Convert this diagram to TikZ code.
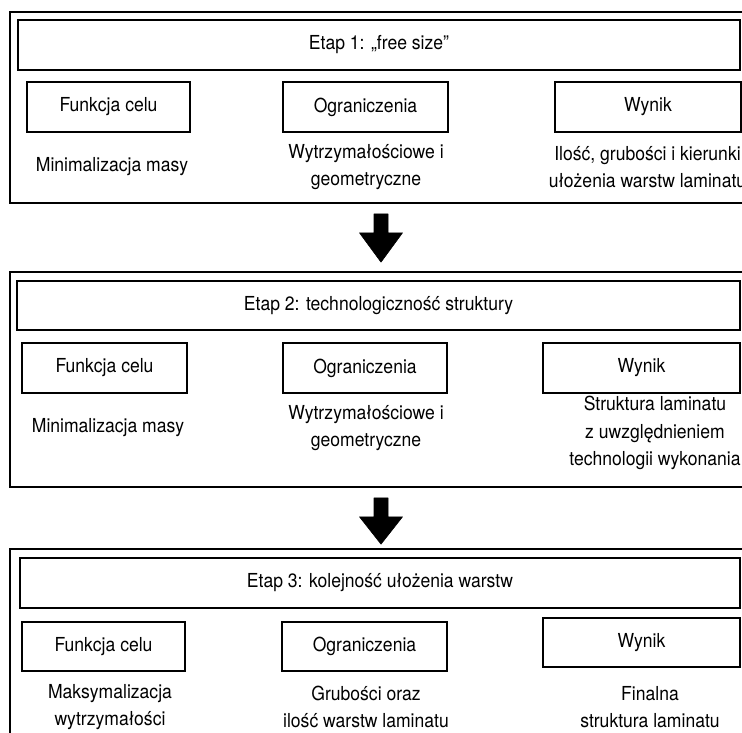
\documentclass[tikz,border=0pt]{standalone}
\usepackage{fontspec}
\setmainfont{TeX Gyre Heros}[FakeStretch=0.91]
\usetikzlibrary{calc}
\begin{document}
\begin{tikzpicture}[x=1pt,y=-1pt,
  box/.style={draw=black,line width=1.7pt,rectangle,inner sep=0pt,anchor=center},
  outerbox/.style={box},
  titlebox/.style={box,font=\fontsize{19.3}{27}\selectfont},
  subbox/.style={box,font=\fontsize{19.3}{27}\selectfont,minimum height=50pt},
  desc/.style={inner sep=0pt,align=center,font=\fontsize{19.3}{27.5}\selectfont},
  bigarrow/.style={fill=black,draw=black,line width=0.6pt,line join=round}]
\clip (0,0) rectangle (742,733);
\fill[white] (0,0) rectangle (742,733);
% ---------- Stage 1 ----------
\node[outerbox,minimum width=750pt,minimum height=191pt] (s1) at (385,107.5) {};
\node[titlebox,minimum width=722pt,minimum height=50pt] (t1) at (379,45) {Etap 1: „free size”};
\node[subbox,minimum width=163pt] (f1) at (108.5,107) {Funkcja celu};
\node[subbox,minimum width=165pt] (o1) at (365.5,107) {Ograniczenia};
\node[subbox,minimum width=186pt] (w1) at (648,107) {Wynik};
\node[desc] (df1) at (112,167) {Minimalizacja masy};
\node[desc] (do1) at (366,167) {Wytrzymałościowe i\\geometryczne};
\node[desc] (dw1) at (647.5,167) {Ilość, grubości i kierunki\\ułożenia warstw laminatu};
% ---------- Stage 2 ----------
\node[outerbox,minimum width=750pt,minimum height=215pt] (s2) at (385,379.5) {};
\node[titlebox,minimum width=723pt,minimum height=49pt] (t2) at (378.5,305.5) {Etap 2: technologiczność struktury};
\node[subbox,minimum width=165pt] (f2) at (104.5,368) {Funkcja celu};
\node[subbox,minimum width=164pt] (o2) at (365,368) {Ograniczenia};
\node[subbox,minimum width=197pt] (w2) at (641.5,368) {Wynik};
\node[desc] (df2) at (108,428) {Minimalizacja masy};
\node[desc] (do2) at (366,428) {Wytrzymałościowe i\\geometryczne};
\node[desc] (dw2) at (655,433) {Struktura laminatu\\z uwzględnieniem\\technologii wykonania};
% ---------- Stage 3 ----------
\node[outerbox,minimum width=750pt,minimum height=211pt] (s3) at (385,654.5) {};
\node[titlebox,minimum width=720pt,minimum height=50pt] (t3) at (380,583) {Etap 3: kolejność ułożenia warstw};
\node[subbox,minimum width=163pt,minimum height=49pt] (f3) at (103.5,646.5) {Funkcja celu};
\node[subbox,minimum width=165pt,minimum height=49pt] (o3) at (364.5,646.5) {Ograniczenia};
\node[subbox,minimum width=197pt,minimum height=49pt] (w3) at (641.5,642.5) {Wynik};
\node[desc] (df3) at (110,707) {Maksymalizacja\\wytrzymałości};
\node[desc] (do3) at (366,707) {Grubości oraz\\ilość warstw laminatu};
\node[desc] (dw3) at (650,707) {Finalna\\struktura laminatu};
% ---------- Arrows ----------
\coordinate (ax) at (381,0);
\coordinate (a1s) at ($(s1.south -| ax)+(0,10)$);
\coordinate (a1t) at ($(s2.north -| ax)+(0,-9)$);
\coordinate (a2s) at ($(s2.south -| ax)+(0,10)$);
\coordinate (a2t) at ($(s3.north -| ax)+(0,-4)$);
\foreach \s/\t in {a1s/a1t,a2s/a2t}{
  \fill[bigarrow] ($(\s)+(-7,0)$) -- ($(\s)+(7,0)$) -- ($(\s)+(7,19)$) -- ($(\s)+(21.5,19)$)
    -- (\t) -- ($(\s)+(-21.5,19)$) -- ($(\s)+(-7,19)$) -- cycle;
}
\end{tikzpicture}
\end{document}
